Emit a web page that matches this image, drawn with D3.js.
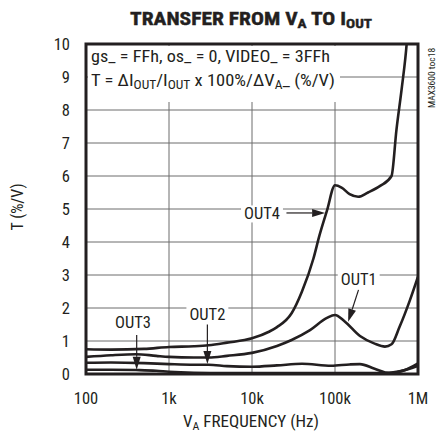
<!DOCTYPE html>
<html><head><meta charset="utf-8">
<script src="https://cdn.jsdelivr.net/npm/d3@7"></script>
<style>
body{margin:0;background:#fff;}
text{font-family:"Liberation Sans Narrow","Arial Narrow","Roboto Condensed",sans-serif;fill:#231f20;}
</style></head>
<body><svg id="c" width="440" height="435"></svg>
<script>
// ---- data ----
const xTicks = [100, 1e3, 1e4, 1e5, 1e6];
const xTickLabels = ["100", "1k", "10k", "100k", "1M"];
const yTicks = [0,1,2,3,4,5,6,7,8,9,10];
const out4F = [100,200,500,1e3,2e3,3e3,5e3,1e4,1.6e4,2e4,3e4,4e4,5.5e4,6.5e4,8e4,1e5,1.2e5,1.5e5,1.9e5,2.5e5,3.5e5,4.8e5,5.5e5,6.4e5,7.3e5,7.6e5];
const out4V = [0.75,0.74,0.76,0.82,0.84,0.87,0.95,1.08,1.28,1.42,1.84,2.5,3.5,4.2,4.95,5.72,5.65,5.45,5.37,5.5,5.7,6.0,7.4,8.7,10.0,10.6];
const out1F = [100,200,400,700,1e3,2e3,3e3,5e3,1e4,2e4,3e4,5e4,8e4,1e5,1.3e5,2e5,3e5,4e5,4.8e5,6e5,8e5,1e6];
const out1V = [0.52,0.57,0.6,0.55,0.52,0.5,0.5,0.55,0.64,0.85,1.03,1.33,1.7,1.79,1.6,1.15,0.92,0.83,0.9,1.43,2.24,2.95];
const out2F = [100,200,500,1e3,2e3,3e3,5e3,1e4,2e4,4e4,9e4,1.5e5,2e5,3e5,4.5e5,7e5,1e6];
const out2V = [0.34,0.35,0.33,0.3,0.28,0.28,0.24,0.22,0.26,0.31,0.25,0.29,0.3,0.16,0.03,0.12,0.32];
const out3F = [100,200,400,700,1e3,2e3,5e3,1e4,1e5,3e5,4e5,6e5,1e6];
const out3V = [0.13,0.13,0.12,0.1,0.07,0.04,0.03,0.03,0.03,0.03,0.03,0.08,0.25];
// annotation anchors in data units
const annNames = ["OUT4","OUT1","OUT2","OUT3"];
const annLabel = [[1.32e4,4.85],[1.93e5,2.85],[2.9e3,1.8],[368,1.56]];
const annFrom  = [[2.6e4,4.88],[1.92e5,2.55],[2.9e3,1.5],[408,1.18]];
const annTo    = [[7.6e4,4.88],[1.44e5,1.58],[2.9e3,0.3],[408,0.13]];

// ---- layout ----
const svg = d3.select("#c");
const L=86, T=44, W=332, H=330;
const x = d3.scaleLog().domain([100,1e6]).range([L, L+W]);
const y = d3.scaleLinear().domain([0,10]).range([T+H, T]);
const ink="#231f20";

svg.append("defs").append("clipPath").attr("id","clip")
  .append("rect").attr("x",L).attr("y",T).attr("width",W).attr("height",H);

// gridlines
const g = svg.append("g");
g.selectAll(".hg").data(yTicks.filter(d=>d>0&&d<10)).join("line")
  .attr("x1",L).attr("x2",L+W).attr("y1",d=>y(d)).attr("y2",d=>y(d))
  .attr("stroke","#6d6d6d").attr("stroke-width",1);
g.selectAll(".vg").data(xTicks.slice(1,4)).join("line")
  .attr("x1",d=>x(d)).attr("x2",d=>x(d)).attr("y1",T).attr("y2",T+H)
  .attr("stroke","#6d6d6d").attr("stroke-width",1);

// mask behind notes box
svg.append("rect").attr("x",L+2).attr("y",T+2).attr("width",252).attr("height",56).attr("fill","#fff");

// curves
const line = d3.line().x(d=>x(d[0])).y(d=>y(d[1])).curve(d3.curveMonotoneX);
const series = [[out4F,out4V],[out1F,out1V],[out2F,out2V],[out3F,out3V]];
const cg = svg.append("g").attr("clip-path","url(#clip)");
series.forEach(([f,v])=>{
  cg.append("path").datum(f.map((d,i)=>[d,v[i]])).attr("d",line)
    .attr("fill","none").attr("stroke",ink).attr("stroke-width",2.6).attr("stroke-linejoin","round");
});

// annotations
annNames.forEach((n,i)=>{
  const lx=x(annLabel[i][0]), ly=y(annLabel[i][1]);
  const t = svg.append("text").attr("x",lx).attr("y",ly).attr("text-anchor","middle")
    .attr("dominant-baseline","central").attr("font-size",16.5).text(n);
  const bb = t.node().getBBox();
  svg.insert("rect","text").attr("x",bb.x-3).attr("y",bb.y+1).attr("width",bb.width+6).attr("height",bb.height-2).attr("fill","#fff");
  const x1=x(annFrom[i][0]), y1=y(annFrom[i][1]), x2=x(annTo[i][0]), y2=y(annTo[i][1]);
  const a=Math.atan2(y2-y1,x2-x1), hl=13, hw=4;
  const bx=x2-hl*Math.cos(a), by=y2-hl*Math.sin(a);
  svg.append("line").attr("x1",x1).attr("y1",y1).attr("x2",bx).attr("y2",by).attr("stroke",ink).attr("stroke-width",1.2);
  svg.append("path").attr("d",`M${x2},${y2}L${bx+hw*Math.sin(a)},${by-hw*Math.cos(a)}L${bx-hw*Math.sin(a)},${by+hw*Math.cos(a)}Z`).attr("fill",ink);
});

// frame
svg.append("rect").attr("x",L).attr("y",T).attr("width",W).attr("height",H)
  .attr("fill","none").attr("stroke",ink).attr("stroke-width",3);

// tick labels
svg.selectAll(".yt").data(yTicks).join("text").attr("x",70).attr("y",d=>y(d))
  .attr("text-anchor","end").attr("dominant-baseline","central").attr("font-size",16.5).text(d=>d);
svg.selectAll(".xt").data(xTicks).join("text").attr("x",d=>x(d)).attr("y",398)
  .attr("text-anchor","middle").attr("dominant-baseline","central").attr("font-size",16.5).text((d,i)=>xTickLabels[i]);

// axis titles
const xt = svg.append("text").attr("x",251).attr("y",427).attr("text-anchor","middle").attr("font-size",16.5)
  .attr("textLength",136).attr("lengthAdjust","spacingAndGlyphs");
xt.append("tspan").text("V");
xt.append("tspan").attr("font-size",11.5).attr("dy",3).text("A");
xt.append("tspan").attr("dy",-3).text(" FREQUENCY (Hz)");
svg.append("text").attr("transform","translate(23,207) rotate(-90)").attr("text-anchor","middle")
  .attr("font-size",16).text("T (%/V)");

// title
const tt = svg.append("text").attr("x",251).attr("y",25).attr("text-anchor","middle")
  .attr("font-size",18.5).attr("font-weight","bold").attr("stroke",ink).attr("stroke-width",0.4)
  .attr("textLength",242).attr("lengthAdjust","spacingAndGlyphs");
tt.append("tspan").text("TRANSFER FROM V");
tt.append("tspan").attr("font-size",13).attr("dy",3).text("A");
tt.append("tspan").attr("dy",-3).text(" TO I");
tt.append("tspan").attr("font-size",13).attr("dy",3).text("OUT");

// notes
svg.append("text").attr("x",91).attr("y",62).attr("font-size",16.5)
  .attr("textLength",239).attr("lengthAdjust","spacingAndGlyphs").text("gs_ = FFh, os_ = 0, VIDEO_ = 3FFh");
const n2 = svg.append("text").attr("x",91).attr("y",86).attr("font-size",16.5)
  .attr("textLength",244).attr("lengthAdjust","spacingAndGlyphs");
n2.append("tspan").text("T = ΔI");
n2.append("tspan").attr("font-size",12).attr("dy",3).text("OUT");
n2.append("tspan").attr("dy",-3).text("/I");
n2.append("tspan").attr("font-size",12).attr("dy",3).text("OUT");
n2.append("tspan").attr("dy",-3).text(" x 100%/ΔV");
n2.append("tspan").attr("font-size",12).attr("dy",3).text("A");
n2.append("tspan").attr("dy",-3).text("_ (%/V)");

// side code
svg.append("text").attr("transform","translate(431,78) rotate(-90)").attr("text-anchor","middle")
  .attr("dominant-baseline","central").attr("font-size",9.5).attr("fill","#555").text("MAX3600 toc18");
</script></body></html>
